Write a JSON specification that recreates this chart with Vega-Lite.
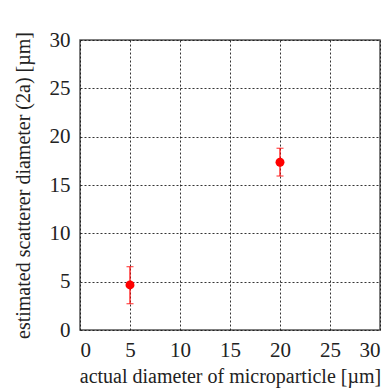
{
  "$schema": "https://vega.github.io/schema/vega-lite/v6.json",
  "autosize": "none",
  "padding": {"left": 80, "top": 40, "right": 11, "bottom": 62},
  "width": 300,
  "height": 290,
  "config": {
    "font": "Liberation Serif",
    "view": {"stroke": "#555", "strokeWidth": 1.5},
    "axis": {
      "domain": false,
      "ticks": false,
      "grid": true,
      "gridColor": "#111",
      "gridDash": [2, 2],
      "gridOpacity": 0.85,
      "labelFont": "Liberation Serif",
      "labelFontSize": 21,
      "labelColor": "#222",
      "titleFont": "Liberation Serif",
      "titleFontSize": 20,
      "titleFontWeight": "normal",
      "titleColor": "#222"
    }
  },
  "data": {
    "values": [
      {"actual": 5, "estimated": 4.66, "low": 2.72, "high": 6.55},
      {"actual": 20, "estimated": 17.35, "low": 15.93, "high": 18.8}
    ]
  },
  "encoding": {
    "x": {"field": "actual", "type": "quantitative", "scale": {"domain": [0, 30]}, "axis": {"values": [0, 5, 10, 15, 20, 25, 30], "labelFontSize": 21, "labelPadding": 9, "title": "actual diameter of microparticle [µm]", "titlePadding": 6, "encode": {"labels": {"update": {"font": {"value": "Liberation Serif"}, "fontSize": {"value": 21}}}}}}
  },
  "layer": [
    {
      "mark": {"type": "rule", "color": "red", "strokeWidth": 1.2},
      "encoding": {
        "y": {"field": "low", "type": "quantitative", "scale": {"domain": [0, 30]}, "axis": {"values": [0, 5, 10, 15, 20, 25, 30], "labelFontSize": 21, "labelPadding": 10, "title": "estimated scatterer diameter (2a) [µm]", "titlePadding": 16, "encode": {"labels": {"update": {"font": {"value": "Liberation Serif"}, "fontSize": {"value": 21}}}}}},
        "y2": {"field": "high"}
      }
    },
    {
      "mark": {"type": "tick", "orient": "horizontal", "color": "red", "size": 7, "thickness": 1.2},
      "encoding": {"y": {"field": "low", "type": "quantitative"}}
    },
    {
      "mark": {"type": "tick", "orient": "horizontal", "color": "red", "size": 7, "thickness": 1.2},
      "encoding": {"y": {"field": "high", "type": "quantitative"}}
    },
    {
      "mark": {"type": "point", "filled": true, "shape": "circle", "size": 80, "color": "red", "opacity": 1},
      "encoding": {
        "y": {"field": "estimated", "type": "quantitative"}
      }
    }
  ]
}
